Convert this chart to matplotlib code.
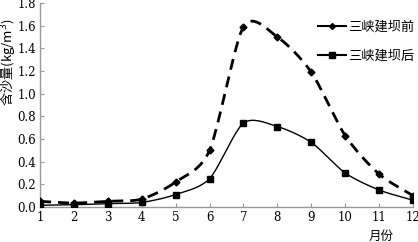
import numpy as np
import matplotlib.pyplot as plt

plt.rcParams['font.family'] = ['DejaVu Serif', 'Noto Sans CJK SC', 'DejaVu Sans']

months = [1, 2, 3, 4, 5, 6, 7, 8, 9, 10, 11, 12]
before_dam = [0.05, 0.035, 0.05, 0.07, 0.22, 0.50, 1.59, 1.50, 1.19, 0.63, 0.29, 0.10]
after_dam = [0.015, 0.02, 0.03, 0.04, 0.11, 0.25, 0.74, 0.71, 0.57, 0.30, 0.15, 0.06]
y_ticks = [0.0, 0.2, 0.4, 0.6, 0.8, 1.0, 1.2, 1.4, 1.6, 1.8]


def smooth(x, y, n=20, k=0.8):
    # cardinal spline through the points, like a "smoothed line" chart
    x = np.asarray(x, float)
    y = np.asarray(y, float)
    px = np.concatenate([[2 * x[0] - x[1]], x, [2 * x[-1] - x[-2]]])
    py = np.concatenate([[2 * y[0] - y[1]], y, [2 * y[-1] - y[-2]]])
    t = np.linspace(0, 1, n, endpoint=False)
    h00 = 2 * t**3 - 3 * t**2 + 1
    h10 = t**3 - 2 * t**2 + t
    h01 = -2 * t**3 + 3 * t**2
    h11 = t**3 - t**2
    xs, ys = [], []
    for i in range(1, len(px) - 2):
        for arr, out in ((px, xs), (py, ys)):
            m1 = 0.5 * k * (arr[i + 1] - arr[i - 1])
            m2 = 0.5 * k * (arr[i + 2] - arr[i])
            out.extend(h00 * arr[i] + h10 * m1 + h01 * arr[i + 1] + h11 * m2)
    xs.append(x[-1])
    ys.append(y[-1])
    return np.array(xs), np.array(ys)


fig = plt.figure(figsize=(4.18, 2.42), dpi=100)
ax = fig.add_axes([40 / 418, 35 / 242, 373 / 418, 204 / 242])

sx, sy = smooth(months, before_dam)
ax.plot(sx, sy, color='black', lw=2.0, dashes=(4, 2.5), zorder=3)
ax.plot(months, before_dam, 'D', color='black', ms=3.5, zorder=4)
sx, sy = smooth(months, after_dam)
ax.plot(sx, sy, color='black', lw=1.0, zorder=3)
ax.plot(months, after_dam, 's', color='black', ms=4, zorder=4)

# legend handles
ax.plot([], [], color='black', lw=1.5, marker='D', ms=3, label='三峡建坝前')
ax.plot([], [], color='black', lw=1.5, marker='s', ms=4, label='三峡建坝后')
fig.legend(loc='upper left', bbox_to_anchor=(318 / 418, 221 / 242), frameon=False,
           handlelength=2.1, handletextpad=0.15, labelspacing=1.15,
           borderpad=0, borderaxespad=0,
           prop={'family': ['Noto Sans CJK SC'], 'size': 9.5})

ax.set_xlim(1, 12)
ax.set_ylim(0, 1.8)
ax.set_xticks(months)
ax.set_yticks(y_ticks)
ax.set_yticklabels([f'{v:.1f}' for v in y_ticks])
ax.tick_params(direction='in', length=3, color='#999999', labelsize=8.5, pad=3)
for s in ['top', 'right']:
    ax.spines[s].set_visible(False)
for s in ['left', 'bottom']:
    ax.spines[s].set_color('#999999')
    ax.spines[s].set_linewidth(1.0)

fig.text(0.018, 0.744, '含沙量(kg/m$^3$)', rotation=90, ha='center', va='center',
         fontsize=9.5, family=['Noto Sans CJK SC', 'DejaVu Sans'])
fig.text(0.911, 0.025, '月份', ha='center', va='center', fontsize=9,
         family=['Noto Sans CJK SC'])

fig.savefig('out.png', dpi=100)
